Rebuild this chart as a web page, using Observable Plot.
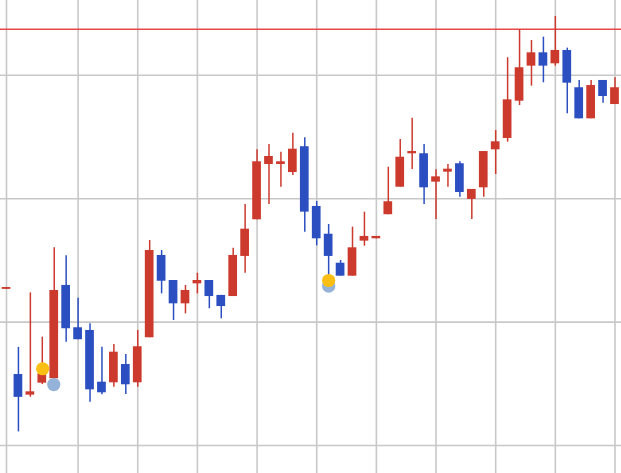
<!DOCTYPE html>
<html>
<head>
<meta charset="utf-8">
<script src="https://cdn.jsdelivr.net/npm/d3@7"></script>
<script src="https://cdn.jsdelivr.net/npm/@observablehq/plot@0.6"></script>
<style>
  html, body { margin: 0; padding: 0; background: #ffffff; }
  #chart svg { display: block; }
</style>
</head>
<body>
<div id="chart"></div>
<script>
// Candles (index = trading day)
const opens  = [52.65,45.75,44.08,45.05,45.41,52.97,49.54,49.32,45.13,45.08,46.56,45.08,48.73,55.40,53.37,51.48,53.10,53.37,52.16,52.07,55.32,58.29,62.77,62.77,62.12,64.21,59.37,57.12,54.77,53.72,56.56,56.75,58.70,60.93,63.64,63.64,61.34,62.15,62.83,59.94,60.88,63.96,64.88,67.90,70.74,71.82,70.93,72.01,68.99,66.47,69.58,67.63];
const closes = [52.80,43.90,44.35,45.80,52.56,49.46,48.57,44.51,44.27,47.56,44.92,48.00,55.80,53.31,51.48,52.56,53.37,52.07,51.26,55.40,57.53,62.99,63.42,62.99,64.01,58.91,56.75,55.32,53.72,56.02,56.94,56.94,59.75,63.36,63.82,60.88,61.77,62.39,60.50,60.75,63.82,64.61,68.01,70.61,71.82,70.74,72.01,69.36,66.47,69.17,68.28,68.99];
const highs  = [52.80,47.95,52.37,48.78,56.02,55.37,51.94,49.86,47.97,48.18,47.37,49.32,56.61,55.80,53.37,52.97,53.96,53.37,52.16,55.99,59.53,63.96,64.39,63.77,65.31,64.94,59.77,57.91,54.99,57.69,58.91,56.94,62.55,64.80,66.52,64.39,62.34,62.77,62.99,60.75,63.82,65.53,71.42,73.70,72.82,73.09,74.76,72.20,69.58,69.58,69.58,69.80];
const lows   = [52.65,41.10,43.91,44.94,45.27,48.37,48.57,43.51,44.11,44.72,44.13,44.72,48.73,52.29,50.13,50.67,52.29,51.08,50.27,52.07,53.96,58.29,59.53,60.93,61.88,57.29,56.18,53.40,53.72,53.72,56.15,56.75,58.70,60.93,62.37,59.53,58.31,60.93,60.12,58.31,60.12,61.96,64.58,67.55,69.12,69.39,70.74,66.88,66.47,66.47,67.74,67.63];

// Marker dots
const yellowDotX = [3.03, 27];
const yellowDotY = [46.22, 53.37];
const blueDotX   = [3.96, 27];
const blueDotY   = [44.94, 52.91];

// Grid and reference level
const xGridTicks = [0, 6, 11, 16, 21, 26, 31, 36, 41, 46, 51];
const yGridTicks = [40, 50, 60, 70];
const refLevel = 73.73;

const RED = "#cc3a2d";
const BLUE = "#2b4fc0";

const candles = opens.map((o, i) => ({
  i, open: o, close: closes[i], high: highs[i], low: lows[i],
  up: closes[i] >= o
}));
const yellowDots = yellowDotX.map((x, k) => ({x, y: yellowDotY[k]}));
const blueDots = blueDotX.map((x, k) => ({x, y: blueDotY[k]}));

const half = 0.365;

const chart = Plot.plot({
  width: 621,
  height: 473,
  marginTop: 0,
  marginBottom: 0,
  marginLeft: 0,
  marginRight: 0,
  style: {background: "#ffffff"},
  x: {domain: [-0.503, 51.545], axis: null},
  y: {domain: [37.73, 76.06], axis: null},
  marks: [
    Plot.ruleX(xGridTicks, {stroke: "#c8c8c8", strokeWidth: 1.6}),
    Plot.ruleY(yGridTicks, {stroke: "#c8c8c8", strokeWidth: 1.6}),
    Plot.ruleY([refLevel], {stroke: "#e8484a", strokeWidth: 1.7}),
    Plot.ruleX(candles, {
      x: "i", y1: "low", y2: "high",
      stroke: d => d.up ? RED : BLUE, strokeWidth: 1.5
    }),
    Plot.rect(candles, {
      x1: d => d.i - half, x2: d => d.i + half,
      y1: "open", y2: "close",
      fill: d => d.up ? RED : BLUE
    }),
    Plot.dot(blueDots, {x: "x", y: "y", r: 6.6, fill: "#95b3d8", stroke: "none"}),
    Plot.dot(yellowDots, {x: "x", y: "y", r: 6.6, fill: "#fbbf14", stroke: "none"})
  ]
});
document.getElementById("chart").appendChild(chart);
</script>
</body>
</html>
